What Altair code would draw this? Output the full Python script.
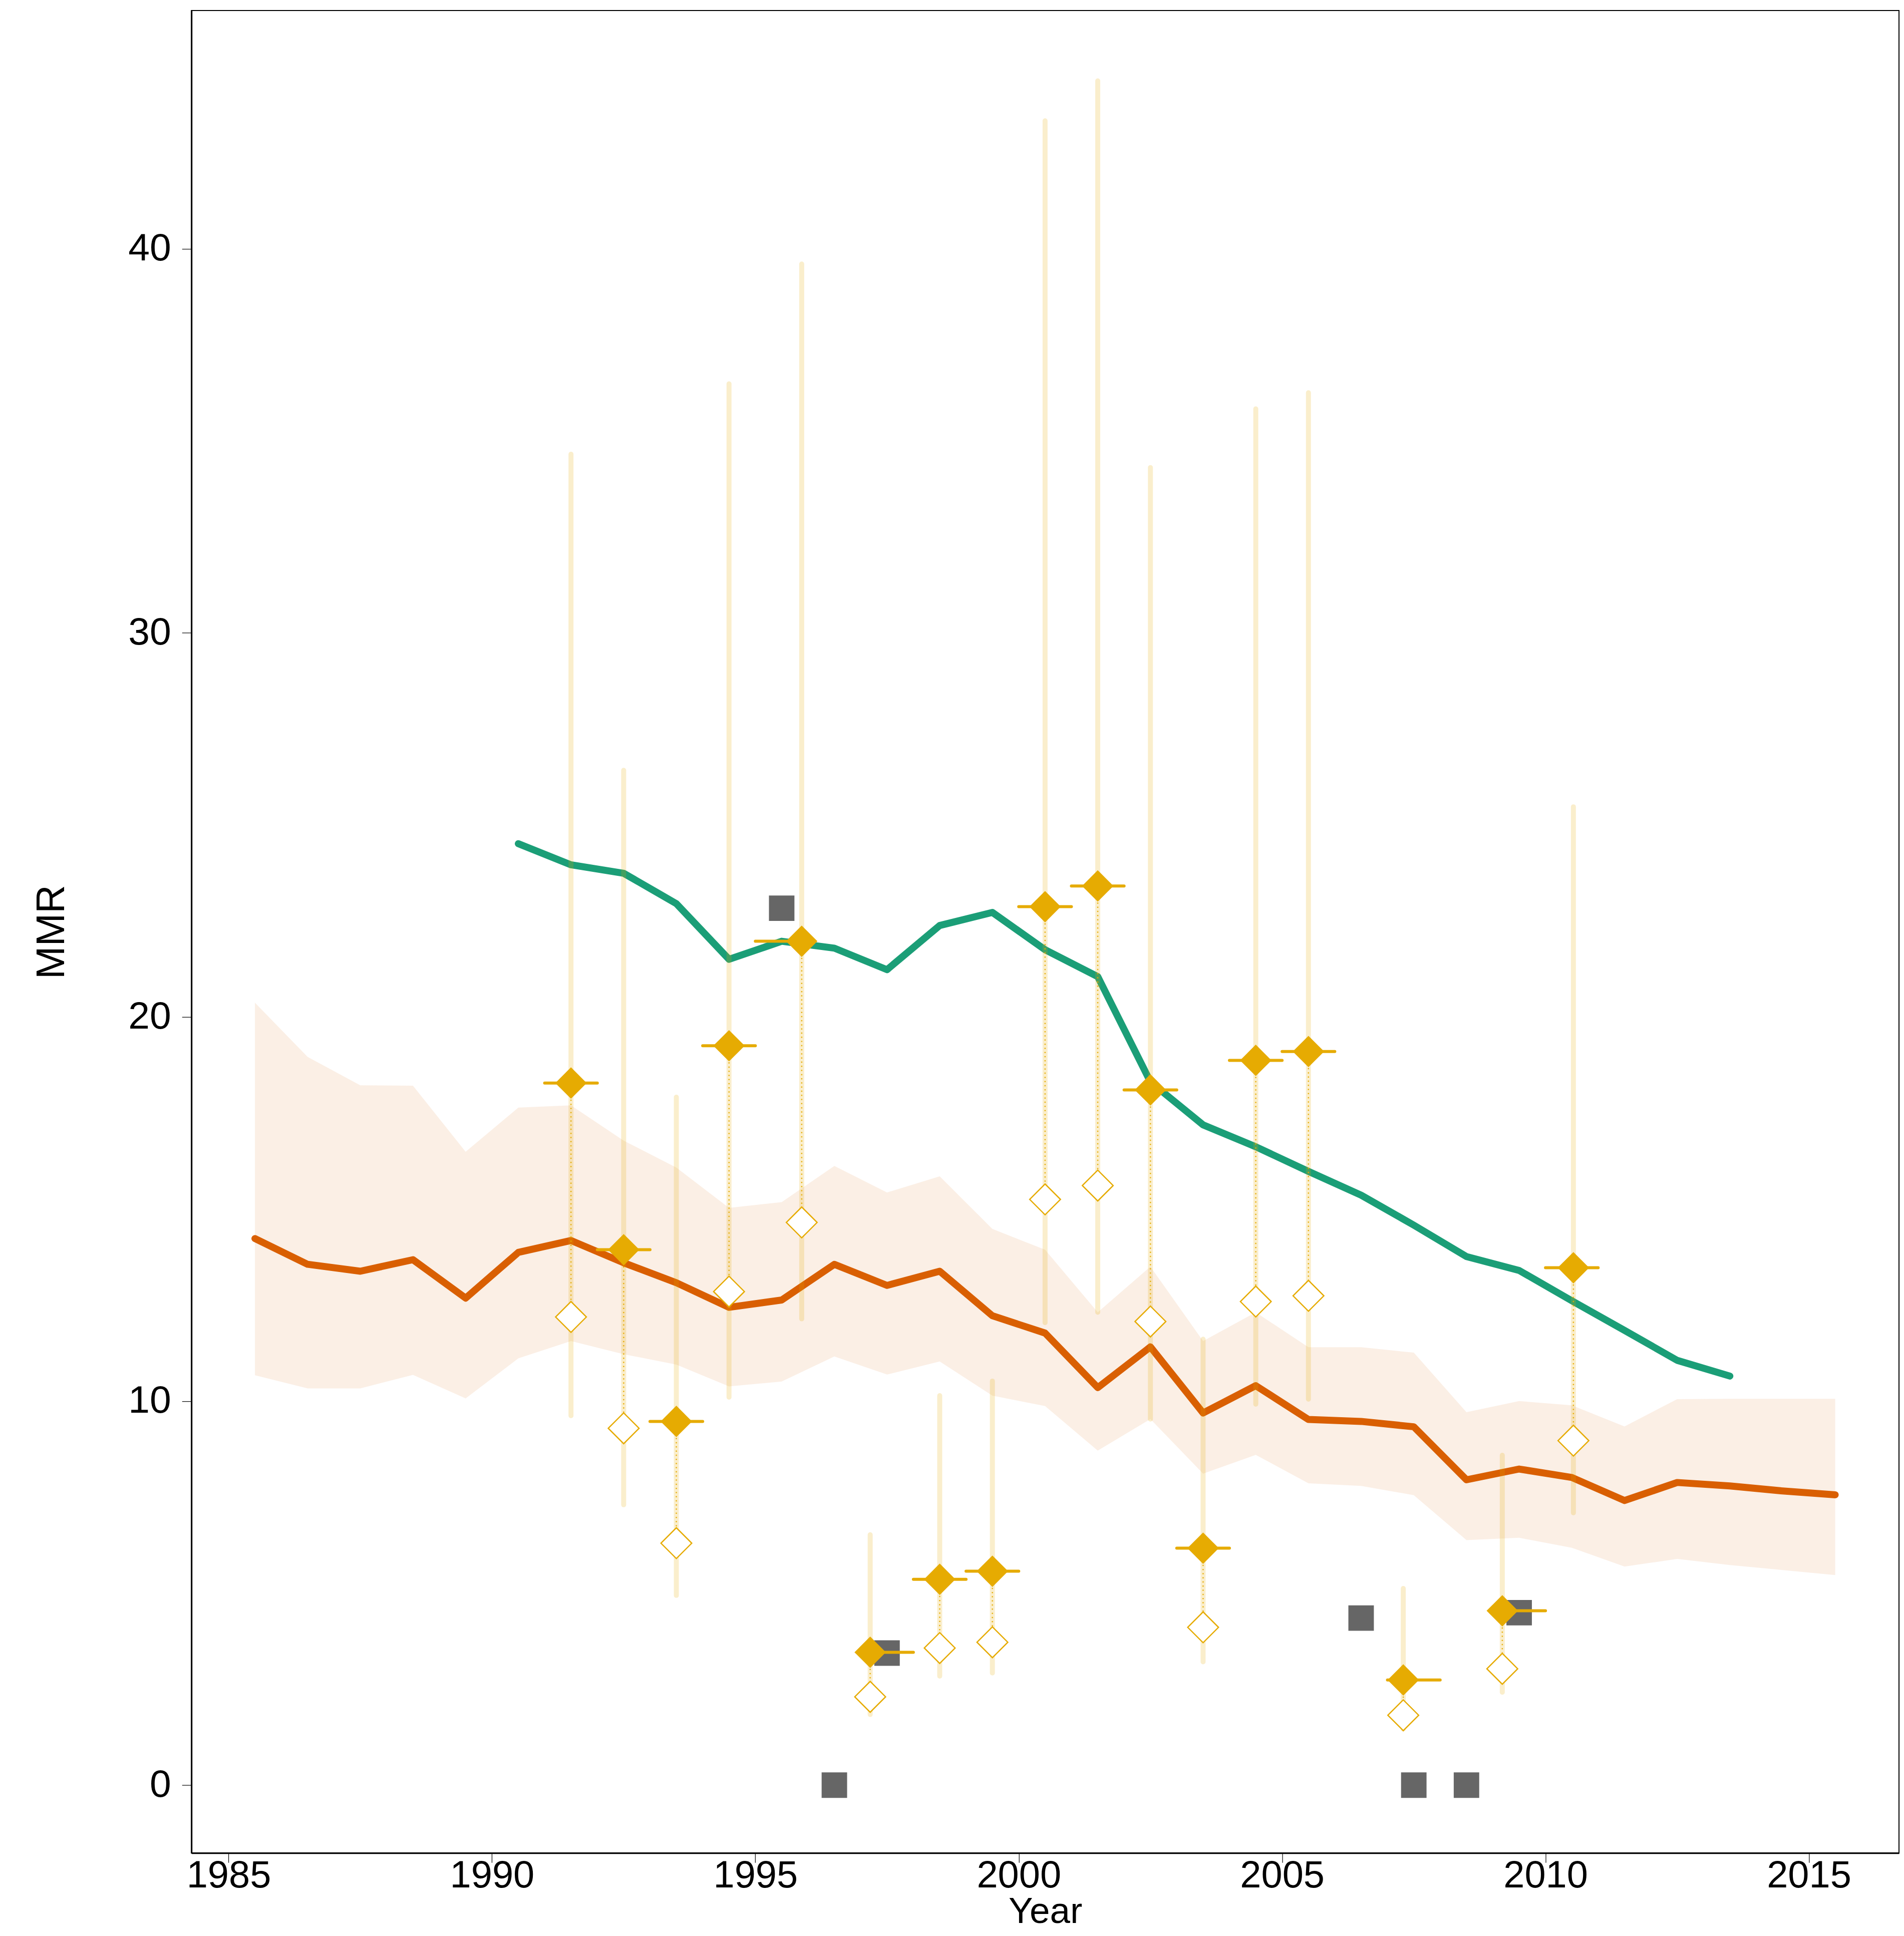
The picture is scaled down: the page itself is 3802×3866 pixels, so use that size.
import altair as alt
import pandas as pd

# ---------------- data ----------------
# modelled estimate (orange) with uncertainty band
est_year = [1985.5, 1986.5, 1987.5, 1988.5, 1989.5, 1990.5, 1991.5, 1992.5, 1993.5, 1994.5,
            1995.5, 1996.5, 1997.5, 1998.5, 1999.5, 2000.5, 2001.5, 2002.5, 2003.5, 2004.5,
            2005.5, 2006.5, 2007.5, 2008.5, 2009.5, 2010.5, 2011.5, 2012.5, 2013.5, 2014.5,
            2015.5]
est_mmr = [14.23, 13.56, 13.38, 13.68, 12.68, 13.87, 14.18, 13.60, 13.08, 12.44,
           12.63, 13.56, 13.01, 13.38, 12.22, 11.77, 10.35, 11.41, 9.69, 10.40,
           9.52, 9.47, 9.33, 7.95, 8.23, 8.01, 7.41, 7.88, 7.79, 7.66,
           7.56]
est_hi = [20.37, 18.96, 18.22, 18.21, 16.49, 17.64, 17.70, 16.78, 16.08, 15.03,
          15.18, 16.12, 15.43, 15.85, 14.48, 13.94, 12.31, 13.50, 11.56, 12.31,
          11.40, 11.40, 11.26, 9.71, 10.00, 9.89, 9.34, 10.05, 10.06, 10.06,
          10.06]
est_lo = [10.67, 10.33, 10.33, 10.68, 10.07, 11.11, 11.56, 11.22, 10.95, 10.38,
          10.51, 11.16, 10.69, 11.03, 10.14, 9.87, 8.71, 9.53, 8.11, 8.60,
          7.86, 7.79, 7.55, 6.38, 6.44, 6.18, 5.69, 5.89, 5.73, 5.60,
          5.47]

# second estimate (green)
alt_year = [1990.5, 1991.5, 1992.5, 1993.5, 1994.5, 1995.5, 1996.5, 1997.5, 1998.5, 1999.5,
            2000.5, 2001.5, 2002.5, 2003.5, 2004.5, 2005.5, 2006.5, 2007.5, 2008.5, 2009.5,
            2010.5, 2011.5, 2012.5, 2013.5]
alt_mmr = [24.51, 23.96, 23.74, 22.95, 21.50, 21.97, 21.79, 21.23, 22.38, 22.72,
           21.75, 21.05, 18.31, 17.19, 16.62, 15.98, 15.36, 14.58, 13.76, 13.40,
           12.61, 11.84, 11.06, 10.65]

# grey squares
sq_year = [1995.5, 1996.5, 1997.5, 2006.5, 2007.5, 2008.5, 2009.5]
sq_mmr = [22.83, 0.0, 3.44, 4.35, 0.0, 0.0, 4.49]

# gold observations
obs_x = [1991.5, 1992.5, 1993.5, 1994.5, 1995.88, 1997.18, 1998.5, 1999.5, 2000.5,
         2001.5, 2002.5, 2003.5, 2004.5, 2005.5, 2007.30, 2009.18, 2010.53]
obs_start = [1991, 1992, 1993, 1994, 1995, 1997, 1998, 1999, 2000,
             2001, 2002, 2003, 2004, 2005, 2007, 2009, 2010]
obs_end = [1992, 1993, 1994, 1995, 1996, 1998, 1999, 2000, 2001,
           2002, 2003, 2004, 2005, 2006, 2008, 2010, 2011]
obs_adj = [18.28, 13.94, 9.47, 19.25, 21.97, 3.46, 5.36, 5.57, 22.87,
           23.41, 18.10, 6.17, 18.87, 19.10, 2.74, 4.54, 13.47]
obs_raw = [12.19, 9.29, 6.30, 12.85, 14.65, 2.30, 3.57, 3.72, 15.25,
           15.61, 12.07, 4.11, 12.59, 12.74, 1.82, 3.03, 8.97]
obs_lo = [9.62, 7.30, 4.94, 10.10, 12.14, 1.84, 2.84, 2.92, 12.04,
          12.31, 9.53, 3.21, 9.92, 10.05, 1.46, 2.42, 7.09]
obs_hi = [34.65, 26.42, 17.91, 36.48, 39.60, 6.52, 10.14, 10.52, 43.33,
          44.37, 34.30, 11.61, 35.83, 36.25, 5.12, 8.59, 25.47]

x_ticks = [1985, 1990, 1995, 2000, 2005, 2010, 2015]
y_ticks = [0, 10, 20, 30, 40]

# ---------------- tables ----------------
est_df = pd.DataFrame({"year": est_year, "mmr": est_mmr, "lo": est_lo, "hi": est_hi})
alt_df = pd.DataFrame({"year": alt_year, "mmr": alt_mmr})
sq_df = pd.DataFrame({"year": sq_year, "mmr": sq_mmr})
obs_df = pd.DataFrame({"x": obs_x, "start": obs_start, "end": obs_end, "adj": obs_adj,
                       "raw": obs_raw, "lo": obs_lo, "hi": obs_hi})

ORANGE = "#D95F02"
GREEN = "#1B9E77"
GOLD = "#E6AB02"
GREY = "#666666"
FONT = "Liberation Sans"

xs = alt.Scale(domain=[1984.294, 2016.711], nice=False, zero=False)
ys = alt.Scale(domain=[-1.766, 46.2], nice=False, zero=False)

x_axis = alt.Axis(title="Year", values=x_ticks, format="d", grid=False,
                  labelFont=FONT, labelFontSize=76, labelColor="black",
                  labelPadding=-11, labelFlush=False, labelOverlap=False,
                  tickSize=19, tickWidth=1.2, tickColor="black",
                  domainColor="black", domainWidth=3,
                  titleFont=FONT, titleFontSize=73, titleFontWeight="normal",
                  titleColor="black", titlePadding=-1.5)
y_axis = alt.Axis(title="MMR", values=y_ticks, format="d", grid=False,
                  labelFont=FONT, labelFontSize=77, labelColor="black",
                  labelPadding=22, labelFlush=False, labelOverlap=False,
                  tickSize=19, tickWidth=1.2, tickColor="black",
                  domainColor="black", domainWidth=3,
                  titleFont=FONT, titleFontSize=79, titleFontWeight="normal",
                  titleColor="black", titlePadding=112)


def X(f):
    return alt.X(f, type="quantitative", scale=xs, axis=x_axis)


def Y(f):
    return alt.Y(f, type="quantitative", scale=ys, axis=y_axis)


band = alt.Chart(est_df).mark_area(color=ORANGE, opacity=0.1).encode(
    x=X("year"), y=Y("lo"), y2="hi")

orange_line = alt.Chart(est_df).mark_line(
    color=ORANGE, strokeWidth=14, strokeCap="round", strokeJoin="round").encode(
    x=X("year"), y=Y("mmr"))

green_line = alt.Chart(alt_df).mark_line(
    color=GREEN, strokeWidth=14, strokeCap="round", strokeJoin="round").encode(
    x=X("year"), y=Y("mmr"))

squares = alt.Chart(sq_df).mark_point(
    shape="square", filled=True, color=GREY, size=2600, opacity=1, strokeWidth=0).encode(
    x=X("year"), y=Y("mmr"))

ci = alt.Chart(obs_df).mark_rule(
    color=GOLD, opacity=0.2, strokeWidth=10, strokeCap="round").encode(
    x=X("x"), y=Y("lo"), y2="hi")

dots = alt.Chart(obs_df).mark_rule(
    color=GOLD, opacity=0.9, strokeWidth=2.5, strokeDash=[2.5, 5.8]).encode(
    x=X("x"), y=Y("adj"), y2="raw")

hbar = alt.Chart(obs_df).mark_rule(
    color=GOLD, strokeWidth=6, strokeCap="round").encode(
    x=X("start"), x2="end", y=Y("adj"))

open_d = alt.Chart(obs_df).mark_point(
    shape="diamond", filled=True, fill="white", stroke=GOLD, strokeWidth=2.5,
    size=3800, opacity=1).encode(
    x=X("x"), y=Y("raw"))

filled_d = alt.Chart(obs_df).mark_point(
    shape="diamond", filled=True, color=GOLD, size=3950, opacity=1, strokeWidth=0).encode(
    x=X("x"), y=Y("adj"))

chart = alt.layer(
    band, orange_line, green_line, squares, ci, dots, hbar, open_d, filled_d
).properties(
    width=3417, height=3687,
    padding={"left": 375, "top": 9, "right": 2, "bottom": 154},
    autosize=alt.AutoSizeParams(type="none"),
    background="white",
).configure_view(stroke="black", strokeWidth=2)

chart.save("out.html", embed_options={"renderer": "svg", "actions": False})
